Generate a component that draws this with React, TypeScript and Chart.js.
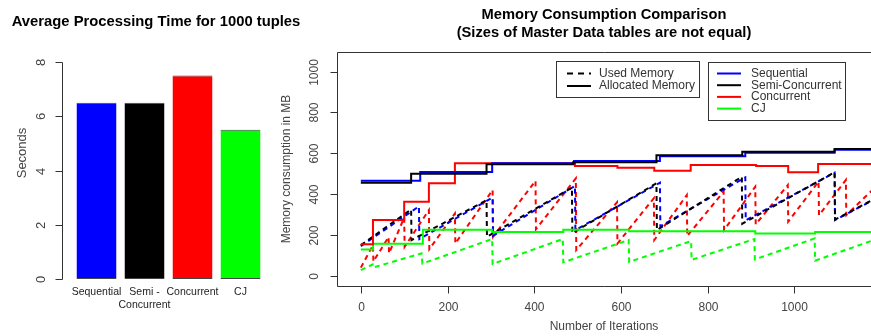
import React, { useEffect, useRef } from "react";
import { Chart, registerables } from "chart.js";
Chart.register(...registerables);

const FONT = '"Liberation Sans", Arial, Helvetica, sans-serif';

// ---------- left panel data ----------
const barTitle = "Average Processing Time for 1000 tuples";
const barCategories = [["Sequential"], ["Semi -", "Concurrent"], ["Concurrent"], ["CJ"]];
const barSeconds = [6.5, 6.5, 7.5, 5.5];
const barColors = ["#0000ff", "#000000", "#ff0000", "#00ff00"];
const secondsTicks = [0, 2, 4, 6, 8];
const secondsAxisTitle = "Seconds";

// ---------- right panel data ----------
const memTitleLines = ["Memory Consumption Comparison", "(Sizes of Master Data tables are not equal)"];
const memXTitle = "Number of Iterations";
const memYTitle = "Memory consumption in MB";
const iterTicks = [0, 200, 400, 600, 800, 1000];
const mbTicks = [0, 200, 400, 600, 800, 1000];
const lineTypeLabels = ["Used Memory", "Allocated Memory"];
const methodLabels = ["Sequential", "Semi-Concurrent", "Concurrent", "CJ"];
const methodColors = ["#0000ff", "#000000", "#ff0000", "#00ff00"];

// allocated memory (step lines) [iteration, MB]
const seqAllocated = [[0, 466], [137, 508], [303, 551], [492, 562], [690, 585], [887, 603], [1093, 617], [1190, 617]];
const semiAllocated = [[0, 456], [116, 500], [290, 546], [490, 556], [682, 590], [880, 607], [1093, 621], [1190, 621]];
const concAllocated = [[0, 155], [28, 273], [100, 363], [157, 453], [217, 551], [494, 538], [592, 529], [677, 515], [761, 542], [912, 538], [986, 507], [1055, 548], [1190, 548]];
const cjAllocated = [[0, 129], [28, 157], [143, 225], [303, 215], [467, 226], [619, 218], [910, 207], [1048, 214], [1190, 214]];

// used memory (dashed saw-tooth lines) [iteration, MB]
const seqUsed = [[0, 145], [134, 340], [135, 180], [304, 383], [305, 196], [494, 440], [495, 224], [690, 456], [691, 242], [887, 482], [888, 272], [1093, 505], [1094, 273], [1190, 380]];
const semiUsed = [[0, 150], [116, 325], [117, 175], [290, 370], [291, 191], [487, 432], [488, 209], [682, 453], [683, 224], [879, 485], [880, 255], [1093, 507], [1094, 275], [1190, 382]];
const concUsed = [[0, 40], [28, 150], [29, 70], [64, 190], [65, 110], [100, 285], [101, 142], [157, 322], [158, 130], [217, 305], [218, 158], [304, 420], [305, 191], [403, 465], [404, 228], [496, 477], [497, 126], [591, 360], [592, 158], [676, 380], [677, 175], [752, 395], [753, 195], [837, 412], [838, 224], [910, 436], [911, 252], [985, 444], [986, 265], [1056, 461], [1057, 297], [1119, 469], [1120, 297], [1190, 440]];
const cjUsed = [[0, 28], [27, 55], [28, 40], [140, 110], [142, 60], [303, 180], [304, 58], [466, 180], [467, 66], [618, 175], [619, 68], [762, 170], [763, 78], [908, 180], [909, 80], [1047, 183], [1048, 74], [1190, 180]];

const toXY = (arr: number[][]) => arr.map(([x, y]) => ({ x, y }));

function vtext(ctx: CanvasRenderingContext2D, text: string, x: number, y: number) {
  ctx.save();
  ctx.translate(x, y);
  ctx.rotate(-Math.PI / 2);
  ctx.fillText(text, 0, 0);
  ctx.restore();
}

const LEFT_W = 310;
const RIGHT_X = 270;
const RIGHT_W = 871 - RIGHT_X;

const leftDecor = {
  id: "leftDecor",
  afterDraw(chart: any) {
    const ctx: CanvasRenderingContext2D = chart.ctx;
    const xs = chart.scales.x;
    const ys = chart.scales.y;
    ctx.save();
    ctx.fillStyle = "#000";
    ctx.textAlign = "center";
    ctx.textBaseline = "middle";
    ctx.font = `bold 14.8px ${FONT}`;
    ctx.fillText(barTitle, 156, 22);

    const axX = 62.5;
    ctx.strokeStyle = "#333";
    ctx.lineWidth = 1;
    ctx.beginPath();
    ctx.moveTo(axX, Math.round(ys.getPixelForValue(secondsTicks[0])) + 0.5);
    ctx.lineTo(axX, Math.round(ys.getPixelForValue(secondsTicks[secondsTicks.length - 1])) + 0.5);
    ctx.stroke();
    ctx.fillStyle = "#444";
    ctx.font = `13px ${FONT}`;
    secondsTicks.forEach((v) => {
      const py = Math.round(ys.getPixelForValue(v)) + 0.5;
      ctx.beginPath();
      ctx.moveTo(axX, py);
      ctx.lineTo(axX - 7, py);
      ctx.stroke();
      vtext(ctx, String(v), 41, py);
    });
    vtext(ctx, secondsAxisTitle, 22, 153);

    ctx.fillStyle = "#222";
    ctx.font = `10.5px ${FONT}`;
    barCategories.forEach((lines, i) => {
      const px = xs.getPixelForValue(i);
      lines.forEach((t, j) => ctx.fillText(t, px, 292 + j * 13));
    });
    ctx.restore();
  },
};

const rightDecor = {
  id: "rightDecor",
  afterDraw(chart: any) {
    const ctx: CanvasRenderingContext2D = chart.ctx;
    const a = chart.chartArea;
    const xs = chart.scales.x;
    const ys = chart.scales.y;
    const ox = RIGHT_X;
    ctx.save();
    // box
    ctx.strokeStyle = "#333";
    ctx.lineWidth = 1;
    ctx.beginPath();
    ctx.moveTo(a.right + 1, Math.round(a.top) + 0.5);
    ctx.lineTo(Math.round(a.left) + 0.5, Math.round(a.top) + 0.5);
    ctx.lineTo(Math.round(a.left) + 0.5, Math.round(a.bottom) + 0.5);
    ctx.lineTo(a.right + 1, Math.round(a.bottom) + 0.5);
    ctx.stroke();

    // titles
    ctx.fillStyle = "#000";
    ctx.textAlign = "center";
    ctx.textBaseline = "middle";
    ctx.font = `bold 14.7px ${FONT}`;
    const cx = (a.left + a.right) / 2;
    ctx.fillText(memTitleLines[0], cx, 15);
    ctx.fillText(memTitleLines[1], cx, 33);

    // x ticks
    ctx.fillStyle = "#444";
    ctx.font = `12px ${FONT}`;
    const by = Math.round(a.bottom) + 0.5;
    iterTicks.forEach((v) => {
      const px = Math.round(xs.getPixelForValue(v)) + 0.5;
      ctx.beginPath();
      ctx.moveTo(px, by);
      ctx.lineTo(px, by + 7);
      ctx.stroke();
      ctx.fillText(String(v), px, 308);
    });
    // y ticks
    const lx = Math.round(a.left) + 0.5;
    mbTicks.forEach((v) => {
      const py = Math.round(ys.getPixelForValue(v)) + 0.5;
      ctx.beginPath();
      ctx.moveTo(lx, py);
      ctx.lineTo(lx - 7, py);
      ctx.stroke();
      vtext(ctx, String(v), 315 - ox, py);
    });
    ctx.fillText(memXTitle, cx, 327);
    vtext(ctx, memYTitle, 287 - ox, (a.top + a.bottom) / 2);

    // legend 1 (line types)
    ctx.strokeStyle = "#333";
    ctx.strokeRect(556.5 - ox, 61.5, 143, 36);
    ctx.textAlign = "left";
    ctx.fillStyle = "#333";
    lineTypeLabels.forEach((t, i) => {
      const yy = 73.5 + i * 12.5;
      ctx.save();
      ctx.strokeStyle = "#000";
      ctx.lineWidth = 2;
      if (i === 0) ctx.setLineDash([6, 5]);
      ctx.beginPath();
      ctx.moveTo(567 - ox, yy);
      ctx.lineTo(591 - ox, yy);
      ctx.stroke();
      ctx.restore();
      ctx.fillText(t, 599 - ox, yy);
    });

    // legend 2 (methods)
    ctx.strokeStyle = "#333";
    ctx.lineWidth = 1;
    ctx.strokeRect(708.5 - ox, 62.5, 137, 58);
    methodLabels.forEach((t, i) => {
      const yy = 73.5 + i * 11.7;
      ctx.save();
      ctx.strokeStyle = methodColors[i];
      ctx.lineWidth = 2;
      ctx.beginPath();
      ctx.moveTo(717 - ox, yy);
      ctx.lineTo(741 - ox, yy);
      ctx.stroke();
      ctx.restore();
      ctx.fillText(t, 751 - ox, yy);
    });
    ctx.restore();
  },
};

export default function App() {
  const leftRef = useRef<HTMLCanvasElement>(null);
  const rightRef = useRef<HTMLCanvasElement>(null);

  useEffect(() => {
    const left = new Chart(leftRef.current!, {
      type: "bar",
      data: {
        labels: barCategories.map((l) => l.join(" ")),
        datasets: [
          {
            data: barSeconds,
            backgroundColor: barColors,
            borderColor: "#444",
            borderWidth: { top: 1, bottom: 1, left: 0, right: 0 },
            borderSkipped: false,
            barPercentage: 40 / 48,
            categoryPercentage: 1,
          },
        ],
      },
      options: {
        responsive: false,
        animation: false,
        devicePixelRatio: 1,
        layout: { padding: { left: 72.5, right: LEFT_W - 264.5, top: 62, bottom: 57 } },
        plugins: { legend: { display: false }, title: { display: false }, tooltip: { enabled: false } },
        scales: {
          x: { display: false },
          y: { display: false, min: 0, max: 8 },
        },
      },
      plugins: [leftDecor],
    });

    const solid = (d: number[][], c: string) => ({
      data: toXY(d),
      borderColor: c,
      borderWidth: 2,
      pointRadius: 0,
      stepped: "before" as const,
      fill: false,
    });
    const dashed = (d: number[][], c: string) => ({
      data: toXY(d),
      borderColor: c,
      borderWidth: 2,
      borderDash: [5, 4],
      pointRadius: 0,
      tension: 0,
      fill: false,
    });

    const right = new Chart(rightRef.current!, {
      type: "line",
      data: {
        datasets: [
          solid(semiAllocated, methodColors[1]),
          solid(seqAllocated, methodColors[0]),
          solid(concAllocated, methodColors[2]),
          solid(cjAllocated, methodColors[3]),
          dashed(semiUsed, methodColors[1]),
          dashed(seqUsed, methodColors[0]),
          dashed(concUsed, methodColors[2]),
          dashed(cjUsed, methodColors[3]),
        ] as any,
      },
      options: {
        responsive: false,
        animation: false,
        devicePixelRatio: 1,
        layout: { padding: { left: 337 - RIGHT_X, right: 0, top: 52, bottom: 50 } },
        plugins: { legend: { display: false }, title: { display: false }, tooltip: { enabled: false } },
        scales: {
          x: { type: "linear", display: false, min: -55, max: 1177 },
          y: { type: "linear", display: false, min: -50, max: 1096 },
        },
      },
      plugins: [rightDecor],
    });

    return () => {
      left.destroy();
      right.destroy();
    };
  }, []);

  return (
    <div style={{ position: "absolute", left: 0, top: 0, width: 871, height: 336, background: "#fff", overflow: "hidden" }}>
      <canvas ref={leftRef} width={LEFT_W} height={336} style={{ position: "absolute", left: 0, top: 0 }} />
      <canvas ref={rightRef} width={RIGHT_W} height={336} style={{ position: "absolute", left: RIGHT_X, top: 0 }} />
    </div>
  );
}
